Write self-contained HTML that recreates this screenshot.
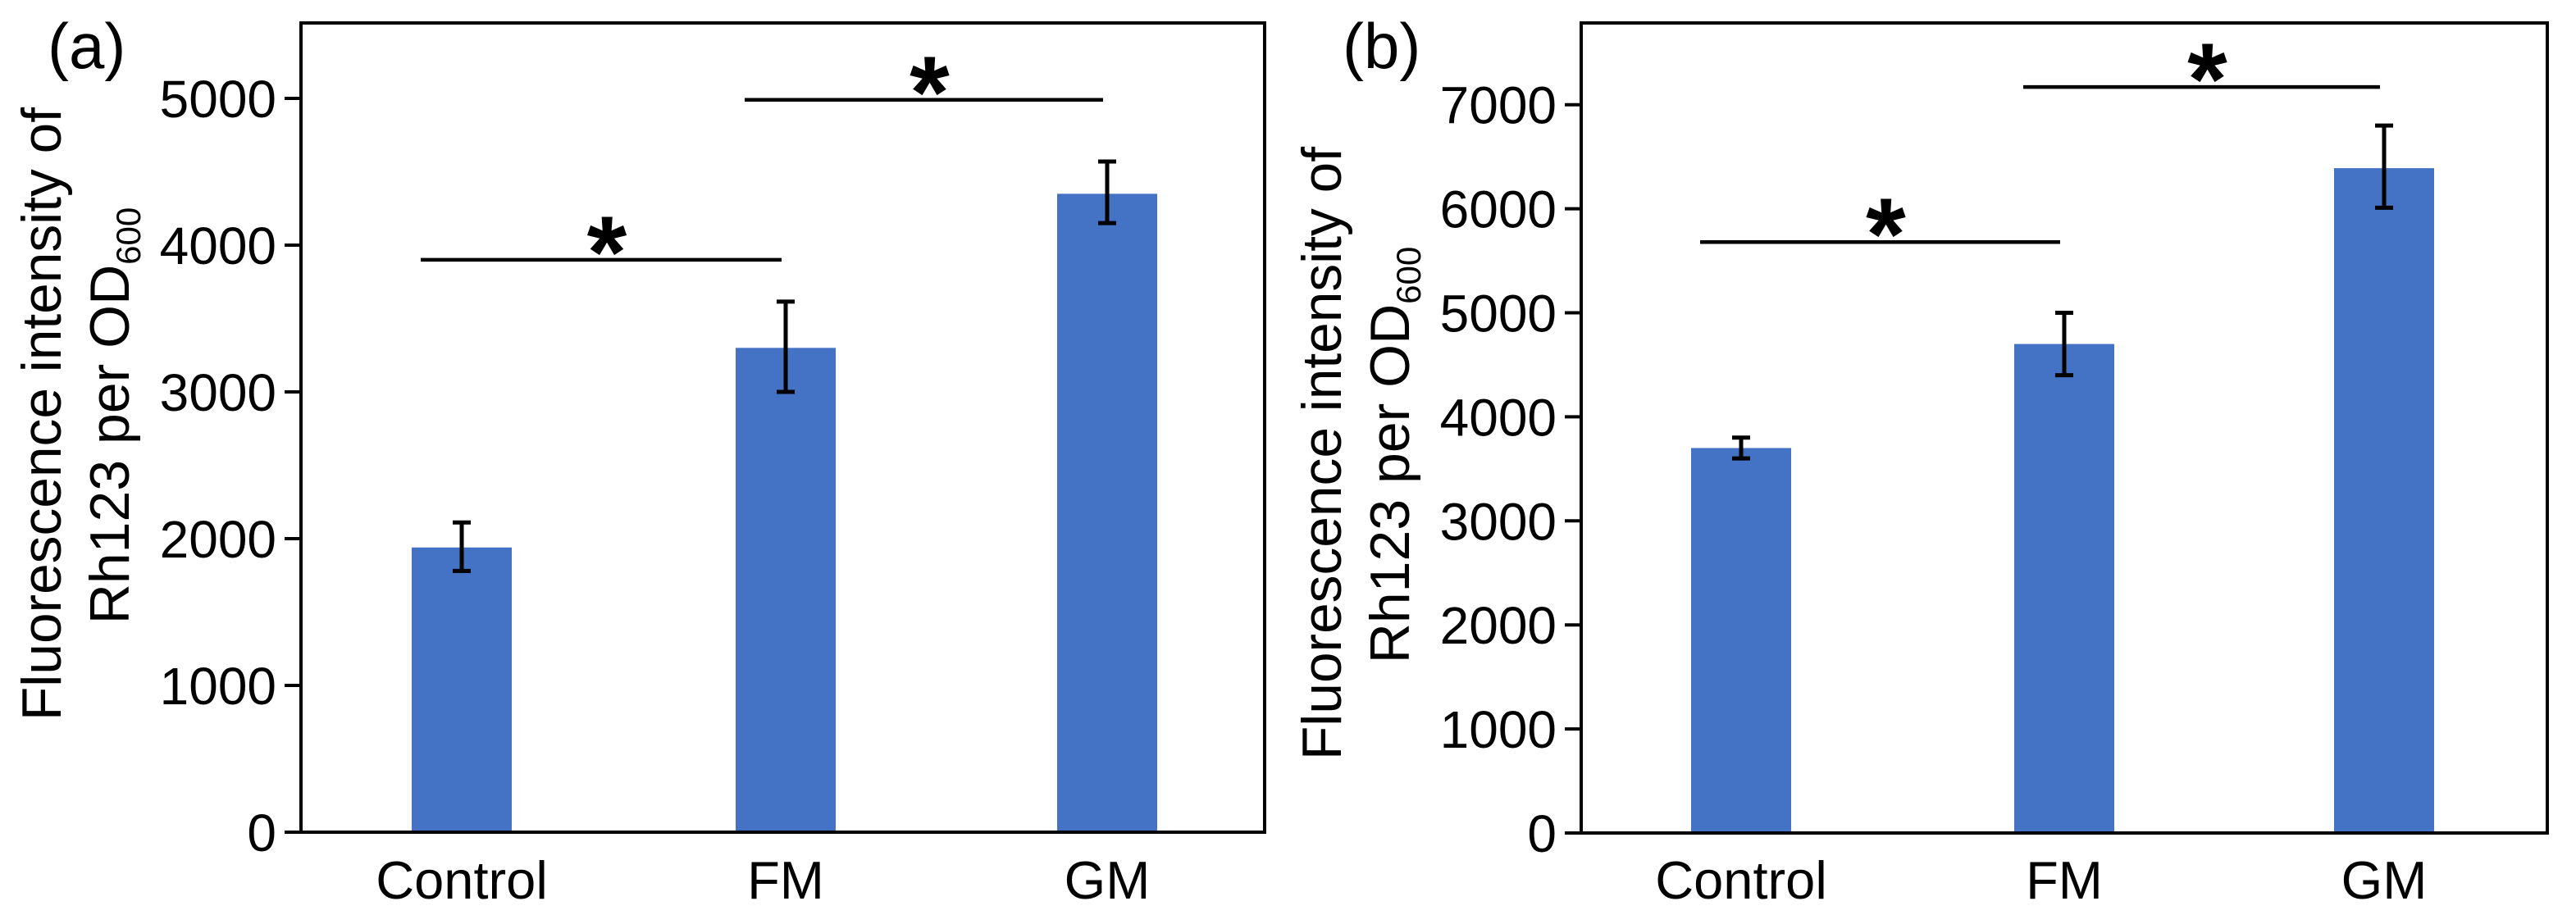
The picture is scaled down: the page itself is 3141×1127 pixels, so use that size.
<!DOCTYPE html>
<html><head><meta charset="utf-8"><style>
html,body{margin:0;padding:0;background:#fff}
svg{display:block}
text{font-family:"Liberation Sans",Arial,sans-serif;fill:#000}
</style></head><body>
<svg id="fig" width="3141" height="1127" viewBox="0 0 3141 1127" xmlns="http://www.w3.org/2000/svg"></svg>
<script>
const categories = ["Control","FM","GM"];
const valuesA = [1940, 3300, 4350];
const errHiA = [2110, 3615, 4570];
const errLoA = [1780, 3000, 4150];
const ticksA = [0,1000,2000,3000,4000,5000];
const valuesB = [3700, 4700, 6390];
const errHiB = [3800, 5000, 6800];
const errLoB = [3600, 4400, 6010];
const ticksB = [0,1000,2000,3000,4000,5000,6000,7000];
const sigA = [[0,1,3900],[1,2,4990]];
const sigB = [[0,1,5680],[1,2,7170]];

const NS = "http://www.w3.org/2000/svg";
const svg = document.getElementById('fig');
function mk(tag, attrs, parent){
  const e = document.createElementNS(NS, tag);
  for (const k in attrs) e.setAttribute(k, attrs[k]);
  (parent||svg).appendChild(e);
  return e;
}

function panel(cfg){
  const g = mk('g', {});
  
  
  const y = v => cfg.y0 - (v - 0) * cfg.pxPer / 1000;
  const x = i => cfg.centers[i];
  cfg.values.forEach((v,i)=>{
    const r = mk('rect', {x: x(i)-61, y: y(v), width: 122, height: y(0)-y(v), fill: '#4472c4'}, g);
    
    
    const eb = mk('path', {d: `M${x(i)},${y(cfg.hi[i])}V${y(cfg.lo[i])}M${x(i)-11},${y(cfg.hi[i])}h22M${x(i)-11},${y(cfg.lo[i])}h22`, stroke:'#000', 'stroke-width':5, fill:'none'}, g);
    
    
    const t = mk('text', {x: x(i), y: 1096, 'font-size': 65, 'text-anchor':'middle'}, g);
    t.textContent = categories[i];
    
    
  });
  const fr = mk('rect', {x: cfg.left, y: 28, width: cfg.right-cfg.left, height: cfg.y0-28, fill:'none', stroke:'#000', 'stroke-width':4}, g);
  
  
  cfg.ticks.forEach(tv=>{
    const tk = mk('line', {x1: cfg.left-20, x2: cfg.left, y1: y(tv), y2: y(tv), stroke:'#000', 'stroke-width':4}, g);
    
    
    const tl = mk('text', {x: cfg.left-30, y: y(tv)+23, 'font-size': 64, 'text-anchor':'end'}, g);
    tl.textContent = tv;
    
    
  });
  cfg.sig.forEach(s=>{
    const ly = y(s[2]);
    const x1 = x(s[0])-50, x2 = x(s[1])-5;
    const ln = mk('line', {x1: x1, x2: x2, y1: ly, y2: ly, stroke:'#000', 'stroke-width':4.5}, g);
    
    
    const st = mk('text', {x: (x1+x2)/2+7, y: ly+34, 'font-size': 125, 'font-weight':'bold', 'text-anchor':'middle'}, g);
    st.textContent = '*';
    
    
  });
  const t1 = mk('text', {transform:`translate(${cfg.left-293},${cfg.tc}) rotate(-90)`, 'font-size': 68, 'text-anchor':'middle', textLength: 748, lengthAdjust:'spacingAndGlyphs'}, g);
  t1.textContent = 'Fluorescence intensity of';
  
  
  const t2 = mk('text', {transform:`translate(${cfg.left-210},${cfg.tc+2}) rotate(-90)`, 'font-size': 68, 'text-anchor':'middle'}, g);
  
  
  t2.appendChild(document.createTextNode('Rh123 per OD'));
  const sub = mk('tspan', {'font-size': 42, dy: 14}, t2);
  sub.textContent = '600';
  const lab = mk('text', {x: cfg.labX, y: 83, 'font-size': 78}, g);
  lab.textContent = cfg.label;
  
  
}

panel({name:'panel-a', left:367, right:1542, y0:1015, pxPer:179, centers:[563,958,1350],
  values:valuesA, hi:errHiA, lo:errLoA, ticks:ticksA, sig:sigA, tc:505, labX:58, label:'(a)'});
panel({name:'panel-b', left:1928, right:3106, y0:1016, pxPer:126.9, centers:[2123,2517,2907],
  values:valuesB, hi:errHiB, lo:errLoB, ticks:ticksB, sig:sigB, tc:553, labX:1637, label:'(b)'});
</script>
</body></html>
